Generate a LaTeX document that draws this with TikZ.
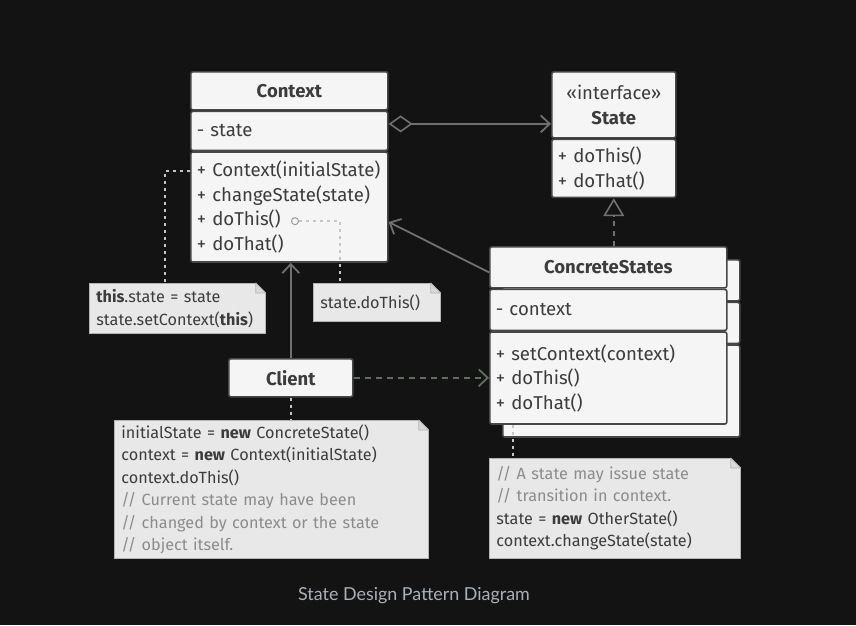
\documentclass[tikz,border=0pt]{standalone}
\usepackage{fontspec}
\setmainfont{Fira Sans}
\newfontfamily\capfont{Lato}
\usepackage{tikz}
\usetikzlibrary{arrows.meta}

\definecolor{bgcol}{HTML}{131313}
\definecolor{boxfill}{HTML}{F5F5F5}
\definecolor{boxline}{HTML}{474747}
\definecolor{boxtext}{HTML}{3C3C3C}
\definecolor{notefill}{HTML}{E8E8E8}
\definecolor{noteline}{HTML}{B4B4B4}
\definecolor{foldcol}{HTML}{D8D8D8}
\definecolor{commentcol}{HTML}{8C8C8C}
\definecolor{linkcol}{HTML}{707070}
\definecolor{clientdash}{HTML}{5F6E5F}
\definecolor{notelinkcol}{HTML}{C3C8C3}
\definecolor{capcol}{HTML}{A9B1BA}

\begin{document}
\begin{tikzpicture}[x=1pt, y=-1pt,
    classhead/.style={draw=boxline, fill=boxfill, line width=1.6pt, rounded corners=2pt,
      anchor=north west, minimum width=#1, inner sep=0pt, align=center, text=boxtext,
      font=\bfseries\fontsize{18.5}{25}\selectfont},
    classpart/.style={draw=boxline, fill=boxfill, line width=1.6pt, rounded corners=2pt,
      anchor=north west, inner xsep=6pt, inner ysep=0pt, text width=#1, align=left,
      text=boxtext, font=\fontsize{18.6}{24.5}\selectfont},
    notebox/.style={draw=noteline, fill=notefill, line width=0.8pt, anchor=north west,
      inner xsep=7pt, inner ysep=0pt, text width=#1, align=left, text=boxtext,
      font=\fontsize{16.2}{22.5}\selectfont},
    linkline/.style={draw=linkcol, line width=1.8pt},
    notelink/.style={draw=notelinkcol, line width=1.6pt, dash pattern=on 3pt off 4pt},
    dotmark/.style={circle, draw=linkcol!70, fill=boxfill, line width=1pt, inner sep=0pt,
      minimum size=7pt},
    barb/.tip={Straight Barb[length=9pt, width=17pt, line width=1.8pt]}]

  % background and page size
  \fill[bgcol] (0,0) rectangle (856,625);
  \useasboundingbox (0,0) rectangle (856,625);

  % Context
  \node[classhead=197pt, minimum height=38pt] (ctx) at (190,71) {Context};
  \node[classpart=185pt, minimum height=39pt] (ctxattr) at (ctx.south west) {- state};
  \node[classpart=185pt, minimum height=110pt] (ctxops) at (ctxattr.south west)
    {\mbox{+ Context(initialState)}\\+ changeState(state)\\+ doThis()\\+ doThat()};

  % State interface
  \node[classhead=124pt, minimum height=66pt] (sthead) at (551,71)
    {\mdseries «interface»\\State};
  \node[classpart=112pt, minimum height=58pt] (stops) at (sthead.south west)
    {+ doThis()\\+ doThat()};

  % ConcreteStates, one copy behind
  \node[classhead=237pt, minimum height=41pt] (csbhead) at (502,259) {};
  \node[classpart=225pt, minimum height=41pt] (csbattr) at (csbhead.south west) {};
  \node[classpart=225pt, minimum height=92pt] (csbops) at (csbattr.south west) {};
  \node[classhead=237pt, minimum height=41pt] (cshead) at (489,246) {ConcreteStates};
  \node[classpart=225pt, minimum height=41pt] (csattr) at (cshead.south west) {- context};
  \node[classpart=225pt, minimum height=92pt] (csops) at (csattr.south west)
    {+ setContext(context)\\+ doThis()\\+ doThat()};

  % Client
  \node[classhead=124pt, minimum height=38pt] (client) at (228,358) {Client};

  % notes
  \node[notebox=162pt, minimum height=50pt] (n1) at (89,283)
    {\textbf{this}.state = state\\state.setContext(\textbf{this})};
  \node[notebox=113pt, minimum height=38pt] (n2) at (313,283) {state.doThis()};
  \node[notebox=300pt, minimum height=138pt] (n3) at (114,420)
    {initialState = \textbf{new} ConcreteState()\\
     context = \textbf{new} Context(initialState)\\
     context.doThis()\\
     {\color{commentcol}// Current state may have been}\\
     {\color{commentcol}// changed by context or the state}\\
     {\color{commentcol}// object itself.}};
  \node[notebox=237pt, minimum height=100pt] (n4) at (489,458)
    {{\color{commentcol}// A state may issue state}\\
     {\color{commentcol}// transition in context.}\\
     state = \textbf{new} OtherState()\\
     context.changeState(state)};

  % folded corners
  \foreach \n in {n1, n2, n3, n4} {
    \fill[bgcol] ([xshift=-10pt]\n.north east) -- ([shift={(1pt,1pt)}]\n.north east)
      -- ([yshift=-10pt]\n.north east) -- cycle;
    \draw[noteline, fill=foldcol, line width=0.8pt, line join=round]
      ([xshift=-10pt]\n.north east) |- ([yshift=-10pt]\n.north east) -- cycle;
  }

  % aggregation Context -> State
  \coordinate (agg) at ([yshift=7pt]ctxattr.east);
  \draw[linkline, {Diamond[open, length=24pt, width=17pt, line width=1.6pt]}-barb]
    (agg) -- (agg -| sthead.west);

  % ConcreteStates implements State
  \draw[linkline, dash pattern=on 5pt off 5pt,
    -{Triangle[open, length=18pt, width=21pt, line width=1.6pt]}]
    (stops.south |- cshead.north) -- (stops.south);

  % ConcreteStates -> Context
  \draw[linkline, -barb] ([yshift=-5pt]cshead.west) -- ([yshift=-15pt]ctxops.east);

  % Client -> Context
  \draw[linkline, -barb] (client.north) -- (client.north |- ctxops.south);

  % Client creates ConcreteStates
  \draw[linkline, draw=clientdash, dash pattern=on 6pt off 5pt, -barb]
    (client.east) -- (client.east -| csops.west);

  % note links
  \draw[notelink] ([yshift=-20pt]ctxops.north west) -| ([xshift=76pt]n1.north west);
  \node[dotmark] (dt) at ([shift={(105pt,-70pt)}]ctxops.north west) {};
  \draw[notelink] (dt.east) -| ([xshift=27pt]n2.north west);
  \draw[notelink] (client.south) -- (client.south |- n3.north);
  \draw[notelink] ([xshift=24pt]csops.south west) -- ([xshift=24pt]n4.north west);

  % caption
  \node[text=capcol, font=\capfont\fontsize{17.9}{21}\selectfont] (cap) at (414,596)
    {State Design Pattern Diagram};
\end{tikzpicture}
\end{document}
